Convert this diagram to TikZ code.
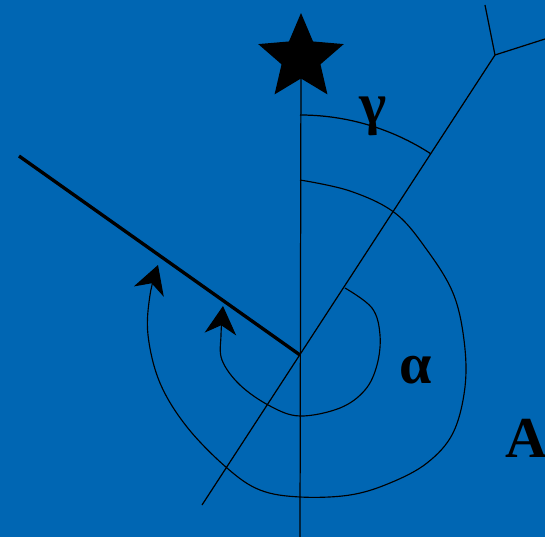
\documentclass[tikz,border=0pt]{standalone}
\usepackage{fontspec}
\newfontfamily\labelfont{Liberation Serif}
\definecolor{skyblue}{RGB}{0,102,179}
\usetikzlibrary{arrows.meta, shapes.geometric}
\begin{document}
\begin{tikzpicture}[
    x=0.02cm, y=-0.02cm,
    thinline/.style={line width=0.7pt},
    turn/.style={line width=0.65pt, -{Stealth[length=16pt, width=18pt, inset=5pt]}},
    lbl/.style={font=\labelfont\bfseries\fontsize{33}{33}\selectfont, inner sep=0pt}
  ]
  \fill[skyblue] (0,0) rectangle (545,537);
  \useasboundingbox (0,0) rectangle (545,537);
  % points of the figure
  \coordinate (O) at (300,355);
  \coordinate (bottom) at (300,537);
  \coordinate (rodend) at (19,156);
  \coordinate (diaglow) at (202,505);
  \coordinate (diagtop) at (495,55);
  \coordinate (branchup) at (485,5);
  \coordinate (branchright) at (545,39);
  \node[star, star points=5, star point ratio=2.2, fill=black,
        minimum size=1.8cm, inner sep=0pt] (polaris) at (301,58) {};
  % lines
  \draw[thinline] (polaris.center) -- (bottom);
  \draw[line width=1.9pt] (rodend) -- (O);
  \draw[thinline] (diaglow) -- (diagtop);
  \draw[thinline] (branchup) -- (diagtop) -- (branchright);
  % angles
  \draw[thinline] (300,115) arc[start angle=90, end angle=57, radius=4.8cm];
  \draw[turn] plot[smooth, tension=0.6] coordinates {(345,288) (372,308)
    (380,335) (377,365) (365,390) (340,408) (300,416) (270,406) (240,385)
    (222,360) (221,335) (223,306)};
  \draw[turn] plot[smooth, tension=0.6] coordinates {(300,180) (350,191)
    (395,213) (427,250) (453,293) (464,340) (465,387) (453,433) (427,463)
    (390,483) (350,495) (300,497) (260,490) (227,468) (187,427) (160,383)
    (148,335) (150,295) (158,265)};
  % labels
  \node[lbl, anchor=base] (gamma) at (373,124) {γ};
  \node[lbl, anchor=base] (alpha) at (416,383) {α};
  \node[lbl, anchor=base west] (pointA) at (505,457) {A};
\end{tikzpicture}
\end{document}
